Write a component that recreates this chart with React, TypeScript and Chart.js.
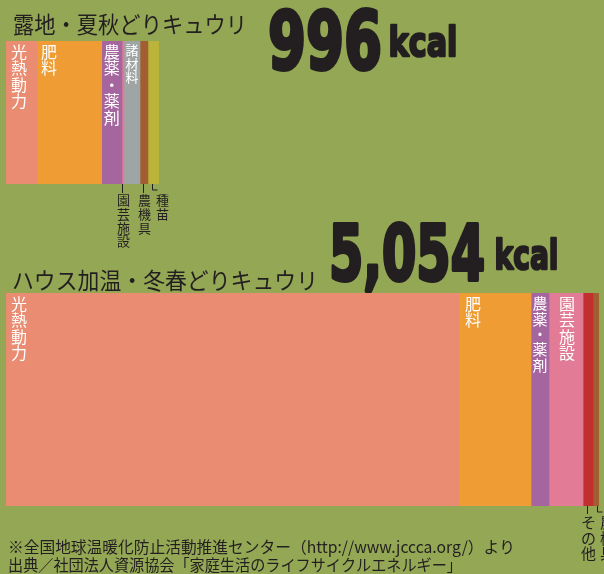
import React, { useEffect, useRef } from "react";
import { Chart, registerables } from "chart.js";

Chart.register(...registerables);

// ---------- data ----------
const openFieldTitle = "露地・夏秋どりキュウリ";
const openFieldTotalLabel = "996";
const openFieldCategories = ["光熱動力", "肥料", "農薬・薬剤", "園芸施設", "諸材料", "農機具", "種苗"];
const openFieldValues = [202, 421, 132, 13, 104, 52, 72];

const greenhouseTitle = "ハウス加温・冬春どりキュウリ";
const greenhouseTotalLabel = "5,054";
const greenhouseCategories = ["光熱動力", "肥料", "農薬・薬剤", "園芸施設", "その他", "農機具"];
const greenhouseValues = [3861, 614, 153, 290, 85, 51];

const unitLabel = "kcal";
const sourceLines = [
  "※全国地球温暖化防止活動推進センター（http://www.jccca.org/）より",
  "出典／社団法人資源協会「家庭生活のライフサイクルエネルギー」",
];

// ---------- styles ----------
const BG = "#93a755";
const DARK = "#231f20";
const FONT = '"Noto Sans CJK JP", sans-serif';
const NUM_FONT = '"DejaVu Sans", sans-serif';
const colorMap: Record<string, string> = {
  光熱動力: "#e98c71",
  肥料: "#ee9c33",
  "農薬・薬剤": "#a5669f",
  園芸施設: "#e17b96",
  諸材料: "#9fa5a5",
  農機具: "#a15f31",
  種苗: "#bbb43b",
  その他: "#c1302f",
};

// label placement: "in" (inside, white), "line" (below with tick), "elbow" (below with elbow)
const openFieldModes = ["in", "in", "in", "line", "in", "line", "elbow"];
const openFieldInsets = [5, 4, 0, 0, 0, 0, 0];
const greenhouseModes = ["in", "in", "in", "in", "line", "elbow"];
const greenhouseInsets = [5, 6, 0, 10, 0, 0];

function drawVertical(ctx: CanvasRenderingContext2D, text: string, cx: number, top: number, size: number, step: number, color: string) {
  ctx.save();
  ctx.font = `${size}px ${FONT}`;
  ctx.fillStyle = color;
  ctx.textAlign = "center";
  ctx.textBaseline = "alphabetic";
  const chars = Array.from(text);
  chars.forEach((ch, i) => {
    const cy = top + i * step + size / 2;
    ctx.fillText(ch, cx, cy + size * 0.38);
  });
  ctx.restore();
}

function labelPlugin(modes: string[], insets: number[], belowSize: number, belowGap: number) {
  return {
    id: "segLabels",
    afterDatasetsDraw(chart: any) {
      const ctx: CanvasRenderingContext2D = chart.ctx;
      chart.data.datasets.forEach((ds: any, i: number) => {
        const el = chart.getDatasetMeta(i).data[0];
        if (!el) return;
        const p = el.getProps(["x", "base", "y", "height"], true);
        const left = Math.min(p.x, p.base);
        const right = Math.max(p.x, p.base);
        const top = p.y - p.height / 2;
        const bottom = p.y + p.height / 2;
        const w = right - left;
        const mode = modes[i];
        const text = ds.label as string;
        if (mode === "in") {
          const size = Math.min(16, w - 3);
          const cx = insets[i] > 0 ? left + insets[i] + size / 2 : left + w / 2;
          drawVertical(ctx, text, cx, top + 3, size, size + 0.4, "#ffffff");
        } else {
          ctx.save();
          ctx.strokeStyle = DARK;
          ctx.lineWidth = 1;
          ctx.beginPath();
          if (mode === "line") {
            const cx = Math.round((left + right) / 2) - 0.5;
            ctx.moveTo(cx, bottom);
            ctx.lineTo(cx, bottom + belowGap);
            ctx.stroke();
            ctx.restore();
            drawVertical(ctx, text, (left + right) / 2 + 0.5, bottom + belowGap + 1, belowSize, belowSize + 0.6, DARK);
          } else {
            const lx = Math.round(left + 4) + 0.5;
            ctx.moveTo(lx, bottom);
            ctx.lineTo(lx, bottom + 6);
            ctx.lineTo(lx + 5, bottom + 6);
            ctx.stroke();
            ctx.restore();
            drawVertical(ctx, text, left + 14.5, bottom + belowGap + 1, belowSize, belowSize + 0.6, DARK);
          }
        }
      });
    },
  };
}

function drawBig(ctx: CanvasRenderingContext2D, text: string, x: number, baseline: number, size: number, maxW: number, stroke: number) {
  ctx.save();
  ctx.font = `bold ${size}px ${NUM_FONT}`;
  ctx.fillStyle = DARK;
  ctx.strokeStyle = DARK;
  ctx.lineWidth = stroke;
  ctx.lineJoin = "round";
  ctx.textAlign = "left";
  ctx.textBaseline = "alphabetic";
  ctx.fillText(text, x, baseline, maxW);
  ctx.strokeText(text, x, baseline, maxW);
  ctx.restore();
}

function drawPlain(ctx: CanvasRenderingContext2D, text: string, x: number, baseline: number, size: number, maxW: number) {
  ctx.save();
  ctx.font = `${size}px ${FONT}`;
  ctx.fillStyle = DARK;
  ctx.textAlign = "left";
  ctx.textBaseline = "alphabetic";
  ctx.fillText(text, x, baseline, maxW);
  ctx.restore();
}

const textPlugin = {
  id: "texts",
  afterDraw(chart: any) {
    const ctx: CanvasRenderingContext2D = chart.ctx;
    drawPlain(ctx, openFieldTitle, 13, 33, 23, 234);
    drawBig(ctx, openFieldTotalLabel, 268, 69, 80, 114, 4);
    drawBig(ctx, unitLabel, 388.5, 55.5, 41, 69, 2.5);
    drawPlain(ctx, greenhouseTitle, 12, 289, 23, 306);
    drawBig(ctx, greenhouseTotalLabel, 329, 280, 77, 156, 4);
    drawBig(ctx, unitLabel, 494.5, 268.5, 40, 64, 2.5);
    drawPlain(ctx, sourceLines[0], 8, 553, 16, 507);
    drawPlain(ctx, sourceLines[1], 8, 571, 16, 454);
  },
};

function makeConfig(
  title: string,
  cats: string[],
  vals: number[],
  padding: any,
  plugins: any[]
): any {
  const total = vals.reduce((a, b) => a + b, 0);
  return {
    type: "bar",
    data: {
      labels: [title],
      datasets: cats.map((c, i) => ({
        label: c,
        data: [vals[i]],
        backgroundColor: colorMap[c],
        borderWidth: 0,
        barPercentage: 1,
        categoryPercentage: 1,
        stack: "s",
      })),
    },
    options: {
      indexAxis: "y",
      responsive: false,
      animation: false,
      layout: { padding },
      scales: {
        x: { stacked: true, min: 0, max: total, display: false },
        y: { stacked: true, display: false },
      },
      plugins: { legend: { display: false }, tooltip: { enabled: false } },
    },
    plugins,
  };
}

export default function App() {
  const topRef = useRef<HTMLCanvasElement>(null);
  const bottomRef = useRef<HTMLCanvasElement>(null);

  useEffect(() => {
    const c1 = new Chart(
      topRef.current as HTMLCanvasElement,
      makeConfig(openFieldTitle, openFieldCategories, openFieldValues, { left: 6, right: 445, top: 41, bottom: 390 }, [
        labelPlugin(openFieldModes, openFieldInsets, 13, 9),
      ])
    );
    const c2 = new Chart(
      bottomRef.current as HTMLCanvasElement,
      makeConfig(greenhouseTitle, greenhouseCategories, greenhouseValues, { left: 6, right: 5, top: 293, bottom: 68 }, [
        labelPlugin(greenhouseModes, greenhouseInsets, 15, 8),
        textPlugin,
      ])
    );
    return () => {
      c1.destroy();
      c2.destroy();
    };
  }, []);

  return (
    <div style={{ position: "fixed", left: 0, top: 0, width: 604, height: 574, background: BG, overflow: "hidden" }}>
      <canvas ref={topRef} width={604} height={574} style={{ position: "absolute", left: 0, top: 0 }} />
      <canvas ref={bottomRef} width={604} height={574} style={{ position: "absolute", left: 0, top: 0 }} />
    </div>
  );
}
